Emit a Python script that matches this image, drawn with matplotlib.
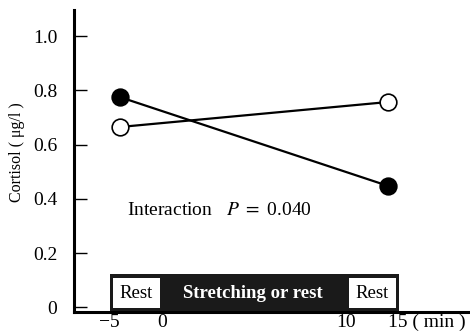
import numpy as np
import matplotlib.pyplot as plt
from matplotlib.patches import Rectangle

plt.rcParams['font.family'] = ['Liberation Serif', 'DejaVu Serif']
plt.rcParams['mathtext.fontset'] = 'stix'

# ------------------------------------------------------------
# Data
# ------------------------------------------------------------
times = [-5, 15]                    # min
stretching = [0.775, 0.448]         # filled circles
rest = [0.665, 0.757]               # open circles

y_ticks = [0, 0.2, 0.4, 0.6, 0.8, 1.0]
y_tick_labels = ["0", "0.2", "0.4", "0.6", "0.8", "1.0"]
x_ticks = [-5, 0, 10, 15]
x_tick_labels = ["\u22125", "0", "10", "15 ( min )"]
phase_labels = ["Rest", "Stretching or rest", "Rest"]
p_value = 0.040

# broken time axis: the 0-10 min stretching period is drawn wider
knots_t = [-20, -5, 0, 10, 15, 40]
knots_u = [-126, 0, 42, 226, 268, 478]


def fwd(t):
    return np.interp(t, knots_t, knots_u)


def inv(u):
    return np.interp(u, knots_u, knots_t)


fig = plt.figure(figsize=(4.7, 3.35), dpi=100)
ax = fig.add_axes([74 / 470, 23 / 335, 396 / 470, 302 / 335])
ax.set_xscale('function', functions=(fwd, inv))

ax.plot(times, stretching, '-o', color='black', lw=1.6, ms=12,
        mfc='black', mec='black', mew=1.2, zorder=3)
ax.plot(times, rest, '-o', color='black', lw=1.6, ms=12,
        mfc='white', mec='black', mew=1.2, zorder=3)

ax.set_xlim(-10.476, 24.76)
ax.set_ylim(-0.0166, 1.096)

for s in ['top', 'right']:
    ax.spines[s].set_visible(False)
for s in ['left', 'bottom']:
    ax.spines[s].set_linewidth(2.2)

ax.set_yticks(y_ticks)
ax.set_yticklabels(y_tick_labels, fontsize=14)
ax.tick_params(axis='y', direction='in', length=9.5, width=1.0, pad=12)

ax.set_xticks(x_ticks)
ax.set_xticklabels(x_tick_labels, fontsize=14)
ax.tick_params(axis='x', length=0, pad=1.5)
xl = ax.get_xticklabels()
xl[0].set_ha('right')
xl[-1].set_ha('left')
ax.minorticks_off()

ax.set_ylabel("Cortisol ( \u03bcg/l )", fontsize=11.5)
ax.yaxis.set_label_coords(-0.124, 0.53)

ax.text(-4.17, 0.359, "Interaction   $P$ $=$ %.3f" % p_value,
        fontsize=14, ha='left', va='center')

# phase bar at the bottom
ax.add_patch(Rectangle((0.0909, 0.0), 0.7298, 0.1258, transform=ax.transAxes,
                       facecolor='#1a1a1a', edgecolor='none', zorder=2,
                       clip_on=False))
ax.add_patch(Rectangle((0.0985, 0.0132), 0.1187, 0.0994, transform=ax.transAxes,
                       facecolor='white', edgecolor='none', zorder=2))
ax.add_patch(Rectangle((0.6944, 0.0132), 0.1187, 0.0994, transform=ax.transAxes,
                       facecolor='white', edgecolor='none', zorder=2))
ax.text(0.1578, 0.06, phase_labels[0], transform=ax.transAxes,
        fontsize=13.5, ha='center', va='center', zorder=4)
ax.text(0.452, 0.06, phase_labels[1], transform=ax.transAxes,
        fontsize=13.5, ha='center', va='center', color='white',
        fontweight='bold', zorder=4)
ax.text(0.7538, 0.06, phase_labels[2], transform=ax.transAxes,
        fontsize=13.5, ha='center', va='center', zorder=4)

fig.savefig("out.png", dpi=100)
